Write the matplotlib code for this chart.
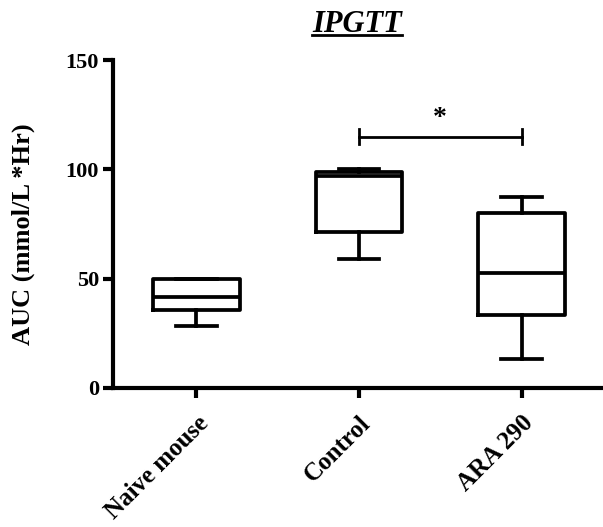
import matplotlib.pyplot as plt

groups = ["Naive mouse", "Control", "ARA 290"]
whislo = [28.5, 59.0, 13.0]
q1 = [35.7, 71.5, 33.5]
medians = [41.5, 97.0, 52.5]
q3 = [50.0, 98.8, 79.8]
whishi = [50.0, 100.0, 87.5]
sig_pair = (1, 2)
sig_y = 115
sig_label = "*"


def main():
    plt.rcParams["font.family"] = ["Liberation Serif", "DejaVu Serif"]
    plt.rcParams["font.weight"] = "bold"

    fig = plt.figure(figsize=(6.03, 5.27), dpi=100)
    ax = fig.add_axes([0.187, 0.264, 0.81, 0.622])

    stats = []
    for i, name in enumerate(groups):
        stats.append({"label": name, "whislo": whislo[i], "q1": q1[i],
                      "med": medians[i], "q3": q3[i], "whishi": whishi[i],
                      "fliers": []})

    line = {"color": "black", "linewidth": 2.7}
    ax.bxp(stats, positions=range(len(groups)), widths=0.53,
           capwidths=0.25, showfliers=False,
           boxprops=line, medianprops=line, whiskerprops=line,
           capprops=line)

    # significance bracket
    x0, x1 = sig_pair
    ax.plot([x0, x1], [sig_y, sig_y], color="black", linewidth=2)
    ax.plot([x0, x0], [sig_y - 3.5, sig_y + 3.5], color="black", linewidth=2)
    ax.plot([x1, x1], [sig_y - 3.5, sig_y + 3.5], color="black", linewidth=2)
    ax.text((x0 + x1) / 2, sig_y + 2.5, sig_label, ha="center", va="bottom",
            fontsize=20, fontweight="bold")

    ax.set_xlim(-0.515, 2.49)
    ax.set_ylim(0, 150)
    ax.set_yticks([0, 50, 100, 150])
    ax.set_xticks(range(len(groups)))
    ax.set_xticklabels(groups, rotation=45, ha="right",
                       rotation_mode="anchor", fontsize=18, fontweight="bold")
    ax.tick_params(axis="y", labelsize=16, width=3, length=7, pad=3)
    ax.tick_params(axis="x", width=3, length=7, pad=10)
    for lbl in ax.get_yticklabels():
        lbl.set_fontweight("bold")

    ax.spines["top"].set_visible(False)
    ax.spines["right"].set_visible(False)
    ax.spines["left"].set_linewidth(3)
    ax.spines["bottom"].set_linewidth(3)

    ax.set_ylabel("AUC (mmol/L *Hr)", fontsize=19, fontweight="bold")
    ax.yaxis.set_label_coords(-0.16, 0.47)
    ax.set_title("IPGTT", fontsize=22, fontweight="bold", style="italic",
                 pad=20)
    t = ax.title
    fig.canvas.draw()
    bb = t.get_window_extent().transformed(fig.transFigure.inverted())
    fig.add_artist(plt.Line2D([bb.x0, bb.x1], [bb.y0 + 0.008, bb.y0 + 0.008],
                              color="black", linewidth=2,
                              transform=fig.transFigure))

    fig.savefig("out.png", dpi=100)


if __name__ == "__main__":
    main()
